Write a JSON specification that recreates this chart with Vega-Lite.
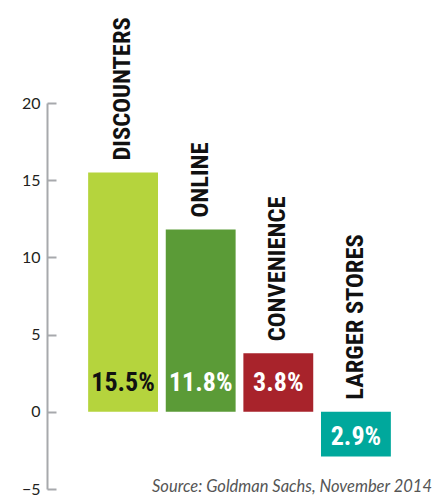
{
  "$schema": "https://vega.github.io/schema/vega-lite/v6.json",
  "autosize": "none",
  "width": 385,
  "height": 386,
  "padding": {"left": 47, "top": 103, "right": 1, "bottom": 9},
  "background": "white",
  "config": {"view": {"stroke": null}},
  "title": {
    "text": "Source: Goldman Sachs, November 2014",
    "orient": "bottom",
    "anchor": "end",
    "offset": -18,
    "font": "Lato",
    "fontSize": 16.5,
    "fontStyle": "italic",
    "fontWeight": "normal",
    "color": "#555555"
  },
  "data": {
    "values": [
      {"category": "DISCOUNTERS", "value": 15.5, "label": "15.5%"},
      {"category": "ONLINE", "value": 11.8, "label": "11.8%"},
      {"category": "CONVENIENCE", "value": 3.8, "label": "3.8%"},
      {"category": "LARGER STORES", "value": -2.9, "label": "2.9%"}
    ]
  },
  "encoding": {
    "x": {
      "field": "category",
      "type": "nominal",
      "sort": null,
      "scale": {"paddingInner": 0.1, "paddingOuter": 0.53},
      "axis": null
    }
  },
  "layer": [
    {
      "mark": {"type": "bar"},
      "encoding": {
        "y": {
          "field": "value",
          "type": "quantitative",
          "scale": {"domain": [-5, 20], "nice": false, "zero": true},
          "axis": {
            "values": [-5, 0, 5, 10, 15, 20],
            "title": null,
            "grid": false,
            "domainColor": "#a7a9ac",
            "domainWidth": 2,
            "tickColor": "#a7a9ac",
            "tickWidth": 2,
            "tickSize": -9,
            "labelPadding": 16,
            "labelFont": "Lato",
            "labelFontSize": 16,
            "labelColor": "#231f20"
          }
        },
        "color": {
          "field": "category",
          "type": "nominal",
          "scale": {
            "domain": ["DISCOUNTERS", "ONLINE", "CONVENIENCE", "LARGER STORES"],
            "range": ["#b5d43d", "#5b9b37", "#a8232b", "#00a89c"]
          },
          "legend": null
        }
      }
    },
    {
      "mark": {"type": "rule", "color": "#a7a9ac", "strokeWidth": 2},
      "encoding": {"y": {"datum": 0, "type": "quantitative"}}
    },
    {
      "transform": [{"filter": "datum.value > 0"}],
      "mark": {
        "type": "text",
        "angle": 270,
        "align": "left",
        "baseline": "middle",
        "yOffset": -12,
        "font": "Roboto Condensed, DejaVu Sans Condensed",
        "fontWeight": "bold",
        "fontSize": 24.5,
        "color": "#111111"
      },
      "encoding": {
        "y": {"field": "value", "type": "quantitative"},
        "text": {"field": "category"}
      }
    },
    {
      "transform": [{"filter": "datum.value < 0"}],
      "mark": {
        "type": "text",
        "angle": 270,
        "align": "left",
        "baseline": "middle",
        "yOffset": -12,
        "font": "Roboto Condensed, DejaVu Sans Condensed",
        "fontWeight": "bold",
        "fontSize": 24.5,
        "color": "#111111"
      },
      "encoding": {
        "y": {"datum": 0, "type": "quantitative"},
        "text": {"field": "category"}
      }
    },
    {
      "transform": [{"filter": "datum.value > 0"}],
      "mark": {
        "type": "text",
        "align": "center",
        "baseline": "alphabetic",
        "yOffset": -21,
        "font": "Roboto Condensed, DejaVu Sans Condensed",
        "fontWeight": "bold",
        "fontSize": 26
      },
      "encoding": {
        "y": {"datum": 0, "type": "quantitative"},
        "text": {"field": "label"},
        "color": {
          "condition": {"test": "datum.category === 'DISCOUNTERS'", "value": "#111111"},
          "value": "#ffffff"
        }
      }
    },
    {
      "transform": [{"filter": "datum.value < 0"}],
      "mark": {
        "type": "text",
        "align": "center",
        "baseline": "alphabetic",
        "yOffset": 33,
        "font": "Roboto Condensed, DejaVu Sans Condensed",
        "fontWeight": "bold",
        "fontSize": 26,
        "color": "#ffffff"
      },
      "encoding": {
        "y": {"datum": 0, "type": "quantitative"},
        "text": {"field": "label"}
      }
    }
  ]
}
